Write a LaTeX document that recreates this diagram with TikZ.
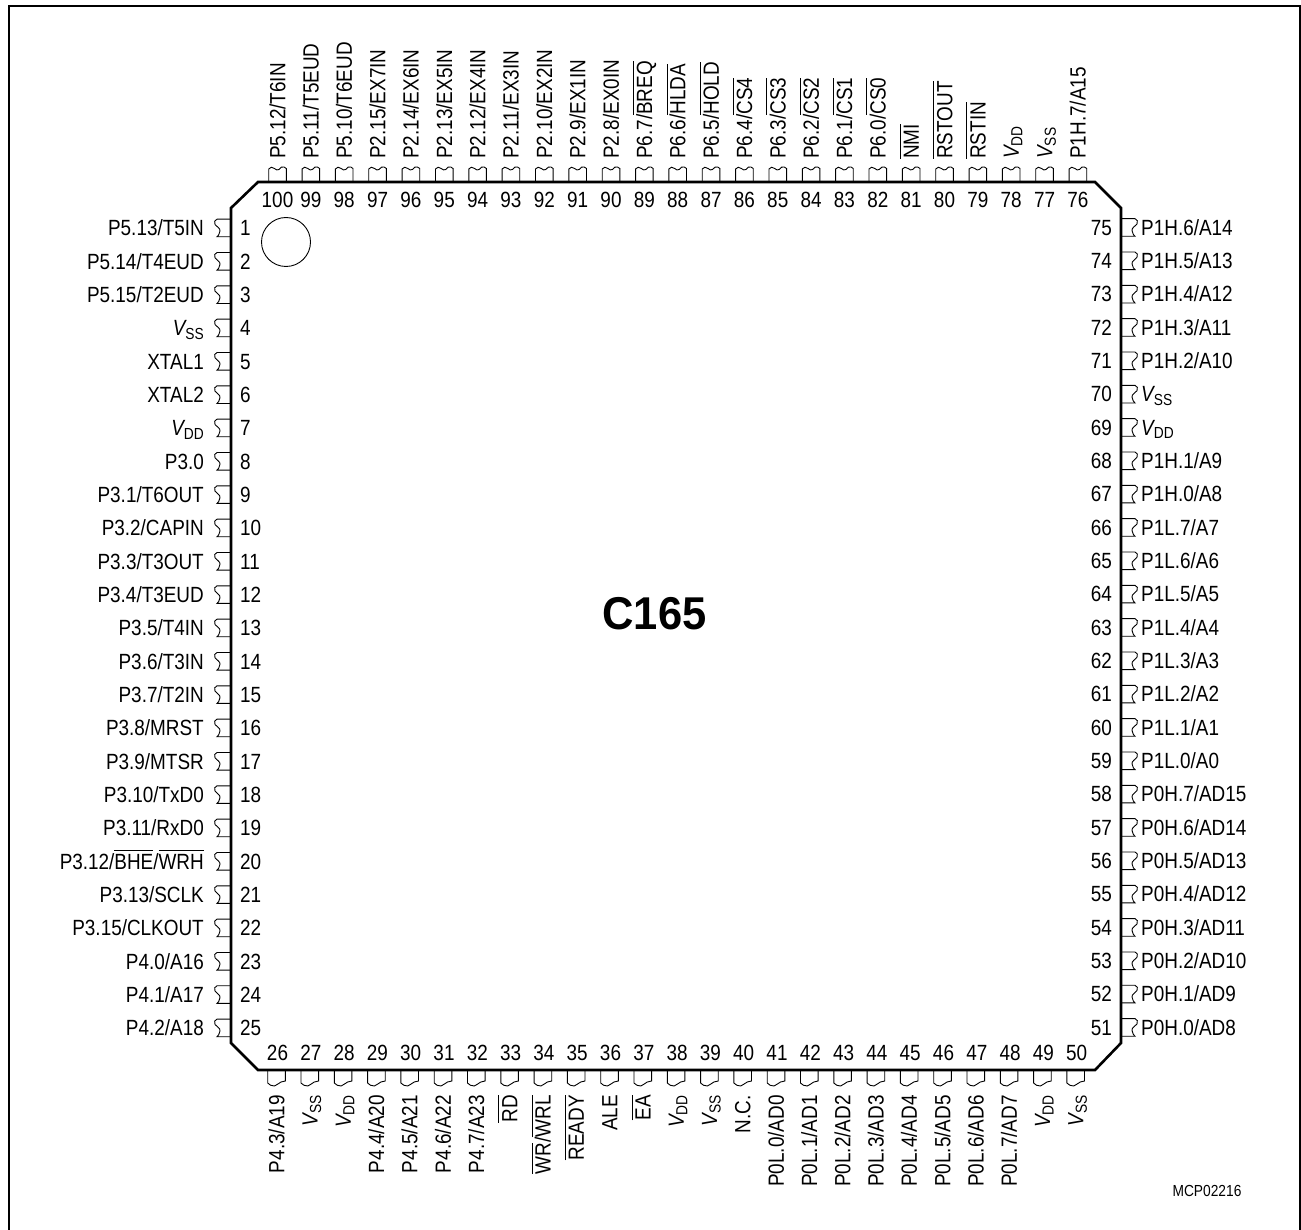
\documentclass[tikz,border=0pt]{standalone}
\usepackage{fontspec}
\setmainfont[FakeStretch=0.86]{Liberation Sans}
\newcommand{\ovl}[1]{\vbox{\hrule height 0.8pt\kern 3pt\hbox{#1}}}
\newcommand{\subV}[1]{{\itshape V}\raisebox{-3.5pt}{\fontsize{16}{16}\selectfont #1}}
\newcommand{\Vss}{\subV{SS}}
\newcommand{\Vdd}{\subV{DD}}
\tikzset{
  x=1pt,y=-1pt,
  frameline/.style={draw=black,line width=2pt},
  pkgline/.style={draw=black,line width=2.6pt,line join=miter},
  pinline/.style={draw=black,line width=0.9pt},
  numlab/.style={inner sep=0pt,font=\fontsize{22}{24}\selectfont,text height=15.5pt,text depth=0pt},
  pinlab/.style={inner sep=0pt,font=\fontsize{22}{24}\selectfont,text height=15.5pt,text depth=0pt},
  vlab/.style={inner sep=0pt,font=\fontsize{22}{24}\selectfont,text height=15.5pt,text depth=0pt,rotate=90},
  pinL/.pic={\draw[pinline] (0,-8.8) -- (-14,-8.8) .. controls (-16,-8) and (-17.5,-6) .. (-16,-3.5) .. controls (-14.5,-1) and (-10.5,0) .. (-11,3) .. controls (-11.5,6) and (-13,8.5) .. (-14,8.8) -- (0,8.8);},
  pinR/.pic={\draw[pinline] (0,-8.8) -- (14,-8.8) .. controls (16,-8) and (17.5,-6) .. (16,-3.5) .. controls (14.5,-1) and (10.5,0) .. (11,3) .. controls (11.5,6) and (13,8.5) .. (14,8.8) -- (0,8.8);},
  pinT/.pic={\draw[pinline] (-8.8,0) -- (-8.8,-13) .. controls (-7.5,-15) and (-5,-15.5) .. (-3,-13.5) .. controls (-1.5,-12) and (0,-11.5) .. (1.5,-12.5) .. controls (3,-14.5) and (5,-16) .. (6.5,-15) .. controls (7.5,-14.5) and (8.3,-14) .. (8.8,-13.5) -- (8.8,0);},
  pinB/.pic={\draw[pinline] (-8.8,0) -- (-8.8,13) .. controls (-7,14.5) and (-5,16.5) .. (-2,16) .. controls (1,15.5) and (2,12.5) .. (4.5,12) .. controls (6,11.7) and (7.5,11.5) .. (8.8,11) -- (8.8,0);}
}
\begin{document}
\begin{tikzpicture}
\useasboundingbox (0,0) rectangle (1301,1230);
\draw[frameline] (9,1230) -- (9,6) -- (1300,6) -- (1300,1230);
\draw[pkgline] (258,182) -- (1095,182) -- (1121,208) -- (1121,1043) -- (1095,1070) -- (258,1070) -- (231,1043) -- (231,208) -- cycle;
\node[draw=black,line width=0.9pt,circle,minimum size=49pt,inner sep=0pt] (dot) at (286,242) {};
\node[inner sep=0pt,font=\fontsize{46}{50}\selectfont\bfseries,transform shape,xscale=1.1] (title) at (654.5,613.5) {C165};
\node[inner sep=0pt,font=\fontsize{16}{18}\selectfont] (mcp) at (1207,1191) {MCP02216};
% left
\foreach \n/\t [count=\k from 0] in {1/P5.13\slash T5IN,2/P5.14\slash T4EUD,3/P5.15\slash T2EUD,4/\Vss,5/XTAL1,6/XTAL2,7/\Vdd,8/P3.0,9/P3.1\slash T6OUT,10/P3.2\slash CAPIN,11/P3.3\slash T3OUT,12/P3.4\slash T3EUD,13/P3.5\slash T4IN,14/P3.6\slash T3IN,15/P3.7\slash T2IN,16/P3.8\slash MRST,17/P3.9\slash MTSR,18/P3.10\slash TxD0,19/P3.11\slash RxD0,20/P3.12\slash\ovl{BHE}\slash\ovl{WRH},21/P3.13\slash SCLK,22/P3.15\slash CLKOUT,23/P4.0\slash A16,24/P4.1\slash A17,25/P4.2\slash A18}{
  \pgfmathsetmacro{\py}{228+33.33*\k}
  \pic at (231,\py) {pinL};
  \node[numlab,anchor=west] (n\n) at (240,\py) {\n};
  \node[pinlab,anchor=east] (l\n) at (204,\py) {\t};
}
% right
\foreach \n/\t [count=\k from 0] in {75/P1H.6\slash A14,74/P1H.5\slash A13,73/P1H.4\slash A12,72/P1H.3\slash A11,71/P1H.2\slash A10,70/\Vss,69/\Vdd,68/P1H.1\slash A9,67/P1H.0\slash A8,66/P1L.7\slash A7,65/P1L.6\slash A6,64/P1L.5\slash A5,63/P1L.4\slash A4,62/P1L.3\slash A3,61/P1L.2\slash A2,60/P1L.1\slash A1,59/P1L.0\slash A0,58/P0H.7\slash AD15,57/P0H.6\slash AD14,56/P0H.5\slash AD13,55/P0H.4\slash AD12,54/P0H.3\slash AD11,53/P0H.2\slash AD10,52/P0H.1\slash AD9,51/P0H.0\slash AD8}{
  \pgfmathsetmacro{\py}{227.5+33.33*\k}
  \pic at (1121,\py) {pinR};
  \node[numlab,anchor=east] (n\n) at (1112,\py) {\n};
  \node[pinlab,anchor=west] (l\n) at (1141,\py) {\t};
}
% top
\foreach \n/\t [count=\k from 0] in {100/P5.12\slash T6IN,99/P5.11\slash T5EUD,98/P5.10\slash T6EUD,97/P2.15\slash EX7IN,96/P2.14\slash EX6IN,95/P2.13\slash EX5IN,94/P2.12\slash EX4IN,93/P2.11\slash EX3IN,92/P2.10\slash EX2IN,91/P2.9\slash EX1IN,90/P2.8\slash EX0IN,89/P6.7\slash\ovl{BREQ},88/P6.6\slash\ovl{HLDA},87/P6.5\slash\ovl{HOLD},86/P6.4\slash\ovl{CS4},85/P6.3\slash\ovl{CS3},84/P6.2\slash\ovl{CS2},83/P6.1\slash\ovl{CS1},82/P6.0\slash\ovl{CS0},81/\ovl{NMI},80/\ovl{RSTOUT},79/\ovl{RSTIN},78/\Vdd,77/\Vss,76/P1H.7\slash A15}{
  \pgfmathsetmacro{\px}{277.5+33.35*\k}
  \pic at (\px,182) {pinT};
  \node[numlab,anchor=center] (n\n) at (\px,200) {\n};
  \node[vlab,anchor=west] (l\n) at (\px,159) {\t};
}
% bottom
\foreach \n/\t [count=\k from 0] in {26/P4.3\slash A19,27/\Vss,28/\Vdd,29/P4.4\slash A20,30/P4.5\slash A21,31/P4.6\slash A22,32/P4.7\slash A23,33/\ovl{RD},34/\ovl{WR}\slash\ovl{WRL},35/\ovl{READY},36/ALE,37/\ovl{EA},38/\Vdd,39/\Vss,40/N.C.,41/P0L.0\slash AD0,42/P0L.1\slash AD1,43/P0L.2\slash AD2,44/P0L.3\slash AD3,45/P0L.4\slash AD4,46/P0L.5\slash AD5,47/P0L.6\slash AD6,48/P0L.7\slash AD7,49/\Vdd,50/\Vss}{
  \pgfmathsetmacro{\px}{276.5+33.3*\k}
  \pic at (\px,1070) {pinB};
  \node[numlab,anchor=center] (n\n) at (\px+1,1053) {\n};
  \node[vlab,anchor=east] (l\n) at (\px,1095) {\t};
}
\end{tikzpicture}
\end{document}
